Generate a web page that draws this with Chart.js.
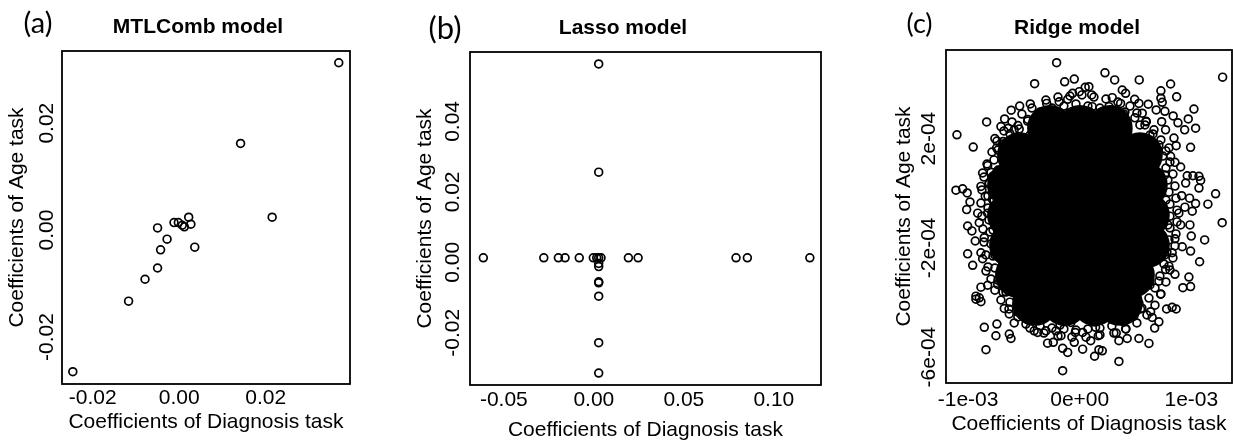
<!DOCTYPE html>
<html lang="en">
<head>
<meta charset="UTF-8">
<title>Coefficients of Age task vs Diagnosis task</title>
<script src="https://cdn.jsdelivr.net/npm/chart.js"></script>
<style>
  body { margin: 0; background: #fff; }
  .wrap { position: relative; width: 1233px; height: 440px; }
  .wrap canvas { position: absolute; left: 0; top: 0; }
</style>
</head>
<body>
<div class="wrap">
  <canvas id="chartA" width="1233" height="440"></canvas>
  <canvas id="chartB" width="1233" height="440"></canvas>
  <canvas id="chartC" width="1233" height="440"></canvas>
</div>
<script>
// [diagnosis coef, age coef]
const mtlPoints = [
  [0.0369, 0.0313], [0.0142, 0.0162], [0.0215, 0.0024], [0.0022, 0.0024],
  [-0.0012, 0.0014], [-0.0002, 0.0014], [0.0007, 0.0009], [0.0012, 0.0006],
  [0.0027, 0.0011], [-0.0050, 0.0004], [-0.0028, -0.0017], [-0.0043, -0.0037],
  [0.0036, -0.0032], [-0.0050, -0.0071], [-0.0079, -0.0092], [-0.0117, -0.0133],
  [-0.0246, -0.0265]
];

const lassoPoints = [
  [-0.0614, 0.0013], [-0.0278, 0.0013], [-0.0197, 0.0013], [-0.016, 0.0013],
  [-0.0081, 0.0013], [-0.0003, 0.0013], [0.0016, 0.0013], [0.0027, 0.0013],
  [0.004, 0.0013], [0.0192, 0.0013], [0.0246, 0.0013], [0.079, 0.0013],
  [0.0853, 0.0013], [0.12, 0.0013],
  [0.0027, 0.0563], [0.0027, 0.0256], [0.0027, -0.0003], [0.0027, -0.0012],
  [0.0027, -0.0055], [0.0027, -0.0058], [0.0027, -0.0096], [0.0027, -0.0228],
  [0.0027, -0.0314]
];

// ridge: the scattered circles around the cloud
const ridgePoints = [
  [-2.07e-4, 4.78e-4], [-4.04e-4, 4.01e-4], [-1.35e-4, 4.08e-4], [-0.49e-4, 4.18e-4],
  [-8.34e-4, 2.61e-4], [-11.0e-4, 2.14e-4], [-4.43e-4, 3.27e-4], [-5.38e-4, 3.19e-4],
  [-2.96e-4, 3.29e-4], [-6.14e-4, 3.04e-4], [-1.84e-4, 3.35e-4], [-1.08e-4, 3.44e-4],
  [-0.64e-4, 3.66e-4], [-0.04e-4, 3.72e-4], [0.49e-4, 3.88e-4], [-6.73e-4, 2.72e-4],
  [-7.06e-4, 2.44e-4], [-4.67e-4, 2.64e-4], [-3.92e-4, 2.80e-4], [-3.32e-4, 2.86e-4],
  [-2.43e-4, 2.93e-4], [-6.40e-4, 2.38e-4], [-5.42e-4, 2.35e-4], [-5.87e-4, 2.32e-4],
  [2.26e-4, 4.41e-4], [3.13e-4, 4.15e-4], [5.33e-4, 4.15e-4], [8.14e-4, 4.00e-4],
  [12.8e-4, 4.25e-4], [7.27e-4, 3.75e-4], [8.68e-4, 3.53e-4], [3.81e-4, 3.78e-4],
  [4.11e-4, 3.66e-4], [2.91e-4, 3.50e-4], [4.92e-4, 3.44e-4], [5.30e-4, 3.29e-4],
  [6.14e-4, 3.26e-4], [7.27e-4, 3.48e-4], [7.39e-4, 3.33e-4], [6.85e-4, 3.05e-4],
  [7.63e-4, 3.00e-4], [10.23e-4, 3.08e-4], [8.37e-4, 2.83e-4], [9.72e-4, 2.72e-4],
  [8.80e-4, 2.58e-4], [10.38e-4, 2.38e-4], [9.40e-4, 2.32e-4], [7.34e-4, 2.62e-4],
  [7.69e-4, 2.32e-4], [0.82e-4, 3.90e-4], [1.07e-4, 3.60e-4], [1.12e-4, 3.17e-4],
  [2.62e-4, 3.17e-4], [3.66e-4, 3.29e-4], [5.60e-4, 2.93e-4], [5.96e-4, 2.62e-4],
  [-9.54e-4, 1.69e-4], [-7.60e-4, 2.00e-4], [-7.44e-4, 1.66e-4], [-6.91e-4, 1.80e-4],
  [-6.01e-4, 1.78e-4], [-8.25e-4, 1.01e-4], [-8.70e-4, 0.74e-4], [-8.85e-4, 0.25e-4],
  [-11.09e-4, 0.11e-4], [-10.49e-4, 0.16e-4], [-10.08e-4, 0.01e-4], [-9.83e-4, -0.32e-4],
  [-10.13e-4, -0.60e-4], [-9.14e-4, -0.73e-4], [-8.46e-4, -0.11e-4], [-7.80e-4, 0.62e-4],
  [-8.11e-4, 0.37e-4], [-6.76e-4, 1.17e-4], [-6.61e-4, 0.99e-4], [-7.21e-4, 0.19e-4],
  [-7.80e-4, -0.24e-4], [-8.25e-4, -0.73e-4], [8.44e-4, 2.02e-4], [9.93e-4, 1.68e-4],
  [8.64e-4, 1.74e-4], [7.99e-4, 1.66e-4], [8.14e-4, 1.35e-4], [8.53e-4, 1.13e-4],
  [9.04e-4, 0.96e-4], [9.63e-4, 0.64e-4], [10.14e-4, 0.64e-4], [10.68e-4, 0.62e-4],
  [10.83e-4, 0.47e-4], [10.68e-4, 0.19e-4], [12.17e-4, -0.02e-4], [11.48e-4, -0.40e-4],
  [10.38e-4, -0.38e-4], [9.84e-4, -0.18e-4], [9.13e-4, -0.09e-4], [9.49e-4, 0.37e-4],
  [10.08e-4, -0.66e-4], [9.42e-4, -0.51e-4], [8.88e-4, -0.73e-4], [-10.04e-4, -1.20e-4],
  [-9.66e-4, -1.38e-4], [-9.36e-4, -1.75e-4], [-10.04e-4, -2.22e-4], [-9.59e-4, -2.64e-4],
  [-8.85e-4, -2.18e-4], [-8.70e-4, -2.40e-4], [-8.40e-4, -2.85e-4], [-8.85e-4, -3.44e-4],
  [-8.25e-4, -3.37e-4], [-7.35e-4, -3.34e-4], [-9.30e-4, -3.77e-4], [-9.00e-4, -3.83e-4],
  [-6.61e-4, -3.62e-4], [-9.00e-4, -1.08e-4], [-8.55e-4, -1.63e-4], [12.76e-4, -1.08e-4],
  [11.19e-4, -1.71e-4], [9.99e-4, -1.57e-4], [9.87e-4, -1.16e-4], [9.04e-4, -1.16e-4],
  [8.53e-4, -1.67e-4], [9.18e-4, -1.96e-4], [9.93e-4, -2.12e-4], [10.74e-4, -2.51e-4],
  [8.53e-4, -2.97e-4], [9.78e-4, -3.07e-4], [9.24e-4, -3.46e-4], [9.93e-4, -3.42e-4],
  [7.25e-4, -3.70e-4], [7.99e-4, -2.67e-4], [7.69e-4, -2.79e-4], [7.09e-4, -3.22e-4],
  [8.28e-4, -2.18e-4], [-9.30e-4, -3.88e-4], [-8.85e-4, -3.97e-4], [-6.76e-4, -4.22e-4],
  [-6.31e-4, -4.42e-4], [-5.87e-4, -4.75e-4], [-8.55e-4, -4.91e-4], [-7.42e-4, -4.79e-4],
  [-7.51e-4, -5.22e-4], [-6.31e-4, -5.16e-4], [-6.16e-4, -5.32e-4], [-8.40e-4, -5.73e-4],
  [-4.82e-4, -4.79e-4], [-4.08e-4, -5.04e-4], [-3.77e-4, -5.10e-4], [-2.88e-4, -5.49e-4],
  [-2.37e-4, -5.46e-4], [-1.68e-4, -5.22e-4], [-1.53e-4, -5.68e-4], [-1.08e-4, -5.83e-4],
  [-0.49e-4, -5.46e-4], [0.26e-4, -5.71e-4], [-0.40e-4, -5.10e-4], [-1.53e-4, -6.50e-4],
  [-5.42e-4, -4.36e-4], [-3.03e-4, -5.04e-4], [-2.13e-4, -5.04e-4], [-0.79e-4, -4.73e-4],
  [0.26e-4, -5.10e-4], [3.51e-4, -6.16e-4], [1.33e-4, -5.97e-4], [1.72e-4, -5.73e-4],
  [2.02e-4, -5.77e-4], [3.27e-4, -5.12e-4], [3.51e-4, -5.40e-4], [4.11e-4, -4.97e-4],
  [4.25e-4, -5.32e-4], [5.30e-4, -5.32e-4], [6.20e-4, -5.50e-4], [6.71e-4, -4.94e-4],
  [7.09e-4, -4.71e-4], [6.49e-4, -4.55e-4], [6.35e-4, -4.34e-4], [7.78e-4, -4.24e-4],
  [8.28e-4, -4.18e-4], [8.64e-4, -4.24e-4], [5.45e-4, -4.24e-4], [5.30e-4, -4.02e-4],
  [3.66e-4, -4.51e-4], [1.66e-4, -5.22e-4], [1.42e-4, -4.91e-4], [0.98e-4, -5.40e-4],
  [-4.46e-4, 2.13e-4], [-3.12e-4, 2.39e-4], [-1.78e-4, 2.68e-4], [0.91e-4, 2.97e-4],
  [1.81e-4, 2.75e-4], [4.05e-4, 2.97e-4], [5.39e-4, 2.50e-4], [6.29e-4, 2.13e-4],
  [7.00e-4, 1.58e-4], [7.63e-4, 0.67e-4], [7.72e-4, -0.25e-4], [7.90e-4, -1.16e-4],
  [7.63e-4, -2.26e-4], [6.29e-4, -3.36e-4], [4.94e-4, -3.91e-4], [3.15e-4, -4.64e-4],
  [1.36e-4, -4.72e-4], [-1.77e-4, -4.83e-4], [-3.56e-4, -4.57e-4], [-5.36e-4, -4.10e-4],
  [-6.88e-4, -3.18e-4], [-7.60e-4, -2.26e-4], [-7.77e-4, -1.35e-4], [-7.68e-4, -0.25e-4],
  [-7.32e-4, 0.85e-4], [-6.43e-4, 1.58e-4], [-5.36e-4, 2.02e-4]
];

// ridge: circles crowding the rim of the dense cloud (inner and outer band)
const ridgeRim = [
  [-3.56e-4, 2.97e-4], [-2.49e-4, 3.12e-4], [-1.42e-4, 3.19e-4], [-0.34e-4, 3.27e-4],
  [0.73e-4, 3.19e-4], [1.81e-4, 3.12e-4], [2.88e-4, 3.05e-4], [3.96e-4, 2.90e-4],
  [-4.64e-4, 2.70e-4], [-5.54e-4, 2.48e-4], [-6.25e-4, 2.18e-4], [-6.88e-4, 1.89e-4],
  [-7.33e-4, 1.58e-4], [-7.68e-4, 1.22e-4], [-7.95e-4, 0.77e-4], [-8.13e-4, 0.34e-4],
  [-8.22e-4, -0.10e-4], [-8.22e-4, -0.54e-4], [-8.13e-4, -0.98e-4], [-8.04e-4, -1.42e-4],
  [-7.95e-4, -1.86e-4], [-7.77e-4, -2.30e-4], [-7.60e-4, -2.74e-4], [-7.33e-4, -3.18e-4],
  [-6.88e-4, -3.62e-4], [-6.25e-4, -3.99e-4], [-5.54e-4, -4.35e-4], [-4.64e-4, -4.64e-4],
  [-3.56e-4, -4.86e-4], [-2.49e-4, -4.94e-4], [-1.42e-4, -4.97e-4], [-0.34e-4, -5.01e-4],
  [0.73e-4, -4.97e-4], [1.81e-4, -4.94e-4], [2.88e-4, -4.86e-4], [3.96e-4, -4.72e-4],
  [4.85e-4, -4.50e-4], [5.57e-4, -4.21e-4], [6.20e-4, -3.84e-4], [6.74e-4, -3.47e-4],
  [7.18e-4, -3.03e-4], [7.54e-4, -2.59e-4], [7.81e-4, -2.15e-4], [7.99e-4, -1.71e-4],
  [8.08e-4, -1.27e-4], [8.08e-4, -0.84e-4], [8.08e-4, -0.40e-4], [7.99e-4, 0.04e-4],
  [7.90e-4, 0.48e-4], [7.72e-4, 0.92e-4], [7.45e-4, 1.36e-4], [7.09e-4, 1.77e-4],
  [6.56e-4, 2.17e-4], [5.84e-4, 2.50e-4], [4.94e-4, 2.76e-4],
  [-3.03e-4, 3.41e-4], [-1.95e-4, 3.52e-4], [-0.88e-4, 3.56e-4], [0.20e-4, 3.60e-4],
  [1.27e-4, 3.52e-4], [2.35e-4, 3.45e-4], [3.42e-4, 3.34e-4], [4.50e-4, 3.19e-4],
  [-4.28e-4, 3.12e-4], [-5.18e-4, 2.90e-4], [-6.07e-4, 2.61e-4], [-6.79e-4, 2.28e-4],
  [-7.42e-4, 1.91e-4], [-7.86e-4, 1.51e-4], [-8.31e-4, 1.07e-4], [-8.58e-4, 0.59e-4],
  [-8.76e-4, 0.12e-4], [-8.85e-4, -0.36e-4], [-8.76e-4, -0.84e-4], [-8.67e-4, -1.31e-4],
  [-8.58e-4, -1.79e-4], [-8.40e-4, -2.26e-4], [-8.22e-4, -2.70e-4], [-7.95e-4, -3.14e-4],
  [-7.60e-4, -3.55e-4], [-7.06e-4, -3.91e-4], [-6.34e-4, -4.24e-4], [-5.54e-4, -4.53e-4],
  [-4.46e-4, -4.94e-4], [-3.21e-4, -5.12e-4], [-1.95e-4, -5.23e-4], [-0.70e-4, -5.27e-4],
  [0.56e-4, -5.27e-4], [1.81e-4, -5.19e-4], [3.06e-4, -5.12e-4], [4.14e-4, -4.97e-4],
  [5.12e-4, -4.75e-4], [6.02e-4, -4.46e-4], [6.74e-4, -4.10e-4], [7.27e-4, -3.69e-4],
  [7.72e-4, -3.25e-4], [8.08e-4, -2.81e-4], [8.35e-4, -2.37e-4], [8.53e-4, -1.93e-4],
  [8.62e-4, -1.49e-4], [8.71e-4, -1.05e-4], [8.71e-4, -0.62e-4], [8.62e-4, -0.18e-4],
  [8.53e-4, 0.26e-4], [8.35e-4, 0.70e-4], [8.08e-4, 1.14e-4], [7.72e-4, 1.55e-4],
  [7.27e-4, 1.95e-4], [6.65e-4, 2.32e-4], [5.93e-4, 2.64e-4], [5.12e-4, 2.94e-4]
];

// ridge: centres of the solid black part of the cloud (overlap is too dense to read single circles)
const ridgeCore = [
  [-2.67e-4, 2.39e-4], [0.02e-4, 2.39e-4], [2.70e-4, 2.39e-4],
  [-5.36e-4, 1.40e-4], [-2.67e-4, 1.40e-4], [0.02e-4, 1.40e-4], [2.70e-4, 1.40e-4], [5.39e-4, 1.40e-4],
  [-6.25e-4, 0.30e-4], [-3.56e-4, 0.30e-4], [-0.88e-4, 0.30e-4], [1.81e-4, 0.30e-4], [4.49e-4, 0.30e-4], [5.84e-4, 0.30e-4],
  [-6.25e-4, -0.80e-4], [-3.56e-4, -0.80e-4], [-0.88e-4, -0.80e-4], [1.81e-4, -0.80e-4], [4.49e-4, -0.80e-4], [6.02e-4, -0.80e-4],
  [-6.07e-4, -1.90e-4], [-3.56e-4, -1.90e-4], [-0.88e-4, -1.90e-4], [1.81e-4, -1.90e-4], [4.49e-4, -1.90e-4], [6.02e-4, -1.90e-4],
  [-5.54e-4, -3.00e-4], [-3.12e-4, -3.00e-4], [-0.43e-4, -3.00e-4], [2.26e-4, -3.00e-4], [4.68e-4, -3.00e-4],
  [-4.01e-4, -4.02e-4], [-1.33e-4, -4.02e-4], [1.36e-4, -4.02e-4], [3.60e-4, -4.02e-4]
];

// tick values and their printed labels
const mtlTicksX = [-0.02, 0, 0.02];
const mtlLabelsX = ['-0.02', '0.00', '0.02'];
const mtlTicksY = [-0.02, 0, 0.02];
const mtlLabelsY = ['-0.02', '0.00', '0.02'];
const lassoTicksX = [-0.05, 0, 0.05, 0.10];
const lassoLabelsX = ['-0.05', '0.00', '0.05', '0.10'];
const lassoTicksY = [-0.02, 0, 0.02, 0.04];
const lassoLabelsY = ['-0.02', '0.00', '0.02', '0.04'];
const ridgeTicksX = [-1e-3, 0, 1e-3];
const ridgeLabelsX = ['-1e-03', '0e+00', '1e-03'];
const ridgeTicksY = [-6e-4, -2e-4, 2e-4];
const ridgeLabelsY = ['-6e-04', '-2e-04', '2e-04'];

const xTitle = 'Coefficients of Diagnosis task';
const yTitle = 'Coefficients of Age task';

const FONT = '"Liberation Sans", Arial, sans-serif';
const W = 1233, Y_AXIS_W = 62;

// black box around the plotting region, plus panel letter and title
const panelDeco = {
  id: 'panelDeco',
  afterDraw(chart, args, o) {
    const { ctx, chartArea: a } = chart;
    ctx.save();
    ctx.strokeStyle = '#000';
    ctx.lineWidth = 1.8;
    ctx.strokeRect(a.left, a.top, a.right - a.left, a.bottom - a.top);
    ctx.fillStyle = '#000';
    ctx.textAlign = 'center';
    ctx.textBaseline = 'middle';
    ctx.font = o.letterSize + 'px Lato, "Open Sans", sans-serif';
    ctx.fillText(o.letter, o.letterX, o.letterY);
    ctx.font = 'bold 21px ' + FONT;
    ctx.fillText(o.title, o.titleX, o.titleY);
    ctx.restore();
  }
};

function axis(horizontal, range, ticks, labels, title, s) {
  return {
    type: 'linear',
    min: range[0],
    max: range[1],
    grid: { display: false, drawTicks: false },
    border: { display: false },
    afterBuildTicks: sc => { sc.ticks = ticks.map(v => ({ value: v })); },
    afterFit: sc => {
      if (horizontal) sc.height = s.xAxisH;
      else sc.width = Y_AXIS_W;
      // labels may overhang the box, do not let the layout shrink the plot for them
      sc.paddingLeft = sc.paddingRight = sc.paddingTop = sc.paddingBottom = 0;
    },
    ticks: {
      autoSkip: false,
      color: '#000',
      font: { family: FONT, size: 21 },
      padding: horizontal ? s.xTickPad : s.yTickPad,
      minRotation: horizontal ? 0 : 90,
      maxRotation: horizontal ? 0 : 90,
      crossAlign: horizontal ? 'near' : 'center',
      callback: (v, i) => labels[i]
    },
    title: {
      display: true,
      text: title,
      color: '#000',
      font: { family: FONT, size: 21 },
      padding: horizontal ? { top: 0, bottom: s.xTitlePad } : { top: s.yTitlePad, bottom: 0 }
    }
  };
}

function makePanel(id, p) {
  const datasets = p.series.map(s => ({
    data: s.points.map(([x, y]) => ({ x, y })),
    pointRadius: s.radius,
    pointBackgroundColor: s.fill,
    pointBorderColor: '#000',
    pointBorderWidth: 1.7
  }));
  new Chart(document.getElementById(id), {
    type: 'scatter',
    data: { datasets },
    options: {
      responsive: false,
      animation: false,
      devicePixelRatio: 1,
      events: [],
      layout: {
        autoPadding: false,
        padding: { left: p.area.left - Y_AXIS_W, right: W - p.area.right, top: p.area.top, bottom: 0 }
      },
      plugins: {
        legend: { display: false },
        tooltip: { enabled: false },
        panelDeco: p.deco
      },
      scales: {
        x: axis(true, p.xRange, p.xTicks, p.xLabels, xTitle, p.sp),
        y: axis(false, p.yRange, p.yTicks, p.yLabels, yTitle, p.sp)
      }
    },
    plugins: [panelDeco]
  });
}

const open = 'rgba(0,0,0,0)';
const R = 3.9;

makePanel('chartA', {
  area: { left: 62, right: 350, top: 51 },
  xRange: [-0.0271, 0.0395], yRange: [-0.0288, 0.0335],
  xTicks: mtlTicksX, xLabels: mtlLabelsX, yTicks: mtlTicksY, yLabels: mtlLabelsY,
  sp: { xAxisH: 56, xTickPad: 2, xTitlePad: 5, yTickPad: -9, yTitlePad: 4.5 },
  series: [{ points: mtlPoints, radius: R, fill: open }],
  deco: { letter: '(a)', letterSize: 29, letterX: 38, letterY: 23.5, title: 'MTLComb model', titleX: 198, titleY: 27 }
});

makePanel('chartB', {
  area: { left: 470, right: 821, top: 52 },
  xRange: [-0.0688, 0.1262], yRange: [-0.0348, 0.0597],
  xTicks: lassoTicksX, xLabels: lassoLabelsX, yTicks: lassoTicksY, yLabels: lassoLabelsY,
  sp: { xAxisH: 55, xTickPad: 3, xTitlePad: -3, yTickPad: -7.5, yTitlePad: 4.5 },
  series: [{ points: lassoPoints, radius: R, fill: open }],
  deco: { letter: '(b)', letterSize: 31, letterX: 445, letterY: 29, title: 'Lasso model', titleX: 623, titleY: 28 }
});

makePanel('chartC', {
  area: { left: 946, right: 1232, top: 50 },
  xRange: [-1.198e-3, 1.364e-3], yRange: [-6.95e-4, 5.245e-4],
  xTicks: ridgeTicksX, xLabels: ridgeLabelsX, yTicks: ridgeTicksY, yLabels: ridgeLabelsY,
  sp: { xAxisH: 57, xTickPad: 4.5, xTitlePad: 3.5, yTickPad: -13.4, yTitlePad: 8 },
  series: [
    { points: ridgePoints, radius: R, fill: open },
    { points: ridgeRim, radius: R, fill: open },
    { points: ridgeCore, radius: 22, fill: '#000' }
  ],
  deco: { letter: '(c)', letterSize: 27, letterX: 919.5, letterY: 24, title: 'Ridge model', titleX: 1077, titleY: 28.5 }
});
</script>
</body>
</html>
